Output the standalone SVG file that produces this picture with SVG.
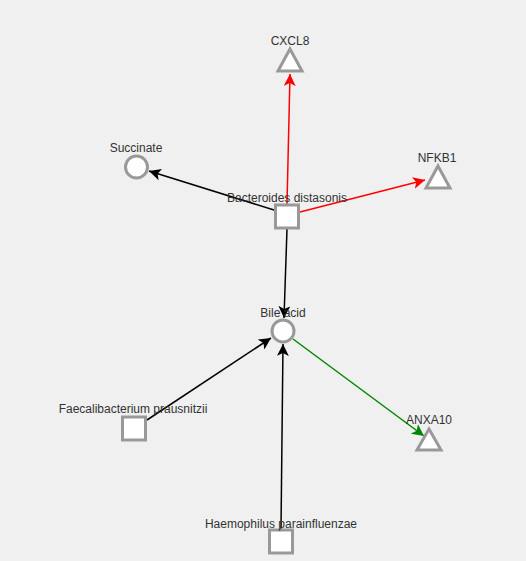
<svg xmlns="http://www.w3.org/2000/svg" width="526" height="561" viewBox="0 0 526 561">
<style>
.n{fill:#fff;stroke:#999;stroke-width:3}
.t{font-family:"Liberation Sans",Arial,sans-serif;font-size:12px;fill:#333;text-anchor:middle}
.e{fill:none;stroke-width:1.5}
</style>
<defs>
<marker id="ak" markerUnits="userSpaceOnUse" markerWidth="14" markerHeight="12" refX="12" refY="6" orient="auto"><path d="M0,0 L12,6 L0,12 L3,6 Z" fill="#000"/></marker>
<marker id="ar" markerUnits="userSpaceOnUse" markerWidth="14" markerHeight="12" refX="12" refY="6" orient="auto"><path d="M0,0 L12,6 L0,12 L3,6 Z" fill="#f00"/></marker>
<marker id="ag" markerUnits="userSpaceOnUse" markerWidth="14" markerHeight="12" refX="12" refY="6" orient="auto"><path d="M0,0 L12,6 L0,12 L3,6 Z" fill="#080"/></marker>
</defs>
<rect width="526" height="561" fill="#f0f0f0"/>
<g id="edges">
<line class="e" x1="287" y1="204" x2="290" y2="74" stroke="#f00" marker-end="url(#ar)"/>
<line class="e" x1="300" y1="212" x2="425" y2="180" stroke="#f00" marker-end="url(#ar)"/>
<line class="e" x1="274" y1="210" x2="149" y2="171" stroke="#000" marker-end="url(#ak)"/>
<line class="e" x1="287" y1="229" x2="284" y2="318" stroke="#000" marker-end="url(#ak)"/>
<line class="e" x1="147" y1="420" x2="271" y2="338" stroke="#000" marker-end="url(#ak)"/>
<line class="e" x1="281" y1="529" x2="283" y2="344" stroke="#000" marker-end="url(#ak)"/>
<line class="e" x1="293" y1="339" x2="424" y2="436" stroke="#080" marker-end="url(#ag)"/>
</g>
<g id="cxcl8"><polygon class="n" points="290,49 302,71 278,71"/><text class="t" x="290" y="45">CXCL8</text></g>
<g id="succinate"><circle class="n" cx="136.5" cy="167" r="11"/><text class="t" x="136" y="152">Succinate</text></g>
<g id="nfkb1"><polygon class="n" points="438,166 450,188 426,188"/><text class="t" x="437" y="162">NFKB1</text></g>
<g id="bacteroides"><rect class="n" x="275.5" y="205" width="23" height="23"/><text class="t" x="287" y="202">Bacteroides distasonis</text></g>
<g id="bileacid"><circle class="n" cx="283" cy="331" r="11"/><text class="t" x="283" y="317">Bile acid</text></g>
<g id="anxa10"><polygon class="n" points="429,429 441,450 417,450"/><text class="t" x="429" y="424">ANXA10</text></g>
<g id="faecalibacterium"><rect class="n" x="122.5" y="417" width="23" height="23"/><text class="t" x="133" y="413">Faecalibacterium prausnitzii</text></g>
<g id="haemophilus"><rect class="n" x="269.5" y="530" width="23" height="23"/><text class="t" x="281" y="528">Haemophilus parainfluenzae</text></g>
</svg>
